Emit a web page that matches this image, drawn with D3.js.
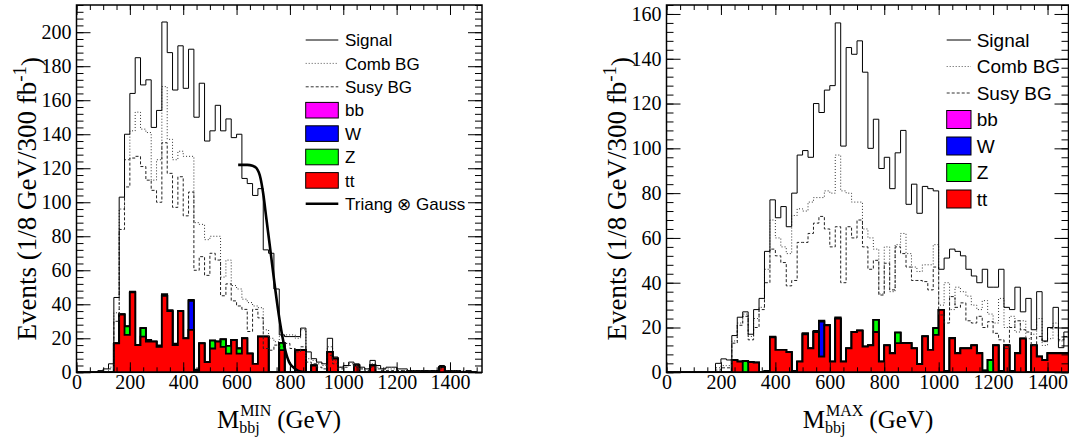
<!DOCTYPE html>
<html><head><meta charset="utf-8">
<script src="https://cdnjs.cloudflare.com/ajax/libs/d3/7.8.5/d3.min.js"></script>
<style>html,body{margin:0;padding:0;background:#fff;} svg{display:block;}</style>
</head><body>
<svg id="chart" width="1069" height="437"></svg>
<script>
const BIN = 20; // GeV per bin

// ---------- Left panel: M_bbj^MIN ----------
const minSignal = [0,0,0,0,1,2,5,44,103,140, 164,185,169,172,144,154,206,188,166,192,
  167,190,150,170,136,142,157,142,149,138, 140,114,111,104,108,72,70,49,22,21,
  21,21,26,12,8,6,5,20,9,3, 4,6,5,3,2,7,4,2,3,3, 2,2,1,1,1,1,1,1,4,1, 1,1,0,1,0];
const minComb = [0,0,0,0,0,0,3,35,96,125, 142,153,143,141,113,125,168,137,125,130,
  127,127,88,87,78,80,80,56,66,51, 49,43,41,39,38,25,20,18,21,22,
  22,20,25,8,7,5,4,15,7,3, 4,5,4,2,2,5,3,2,2,2, 1,1,1,1,1,1,1,1,3,1, 1,0,1,0,0];
const minSusy = [0,0,0,0,0,0,2,30,84,109, 126,127,121,113,107,100,135,117,97,115,
  92,106,60,68,57,70,66,45,52,42, 39,37,24,37,32,14,13,16,15,17,
  14,12,15,6,5,3,2,10,5,2, 3,4,3,2,1,3,2,1,1,1, 1,1,1,1,1,1,1,1,2,0, 0,1,0,0,0];
const minTT = [0,0,0,0,0,0,0,17,34,22, 47,16,21,18,18,15,45,36,16,36,
  20,25,0.5,17,6,14,18,15,11,19, 11,20,11,5,21,21,0,0,13,0,
  0,13,13,0,4,0,0,12,8,0, 0,0,4,0,0,4,0,0,0,0, 0,0,0,0,0,0,0,0,3,0, 0,0,0,0,0];
const minZ = [0,0,0,0,0,0,0,0,0,5, 0,0,5,0,0,0,0,0,0,0,
  0,0,0,0,0,4.6,0,4.4,4.5,0, 3,0,0,0,0,0,0,0,4.3,0,
  0,0,0,0,0,0,0,0,0,0, 0,0,0,0,0,0,0,0,0,0, 0,0,0,0,0,0,0,0,0,0, 0,0,0,0,0];
const minW = [0,0,0,0,0,0,0,0,0,0, 0,0,0,0,0,0,0,0,0,0,
  0,17,0,0,0,0,0,0,0,0, 0,0,0,0,0,0,0,0,0,0,
  0,0,0,0,0,0,0,0,0,0, 0,0,0,0,0,0,0,0,0,0, 0,0,0,0,0,0,0,0,0,0, 0,0,0,0,0];
const minBB = [0,0,0,0,0,0,0,0,0,0, 0.5,0,0,1,0,0.8,1,0.5,0.8,0,
  0,0.6,1,0,0,0,0,0,0,0, 0,0,0,0,0,0,0,0,0,0,
  0,0,0,0,0,0,0,0,0,0, 0,0,0,0,0,0,0,0,0,0, 0,0,0,0,0,0,0,0,0,0, 0,0,0,0,0];
// Triang (x) Gauss fit curve
const fitX = [606,640,660,675,690,700,712,725,744,762,781,797,812,830,850,870,1000];
const fitY = [122,122,121.5,120,114,105,90,74,50,30,14,6,3,1,0.2,0,0];

// ---------- Right panel: M_bbj^MAX ----------
const maxSignal = [0,0,0,0,0,0,0,0,0,4, 6,5.5,16.4,24.6,27,17,28,33,54,77,
  69,74,65,80,97,99,96,120,116,126, 128,156,101,145,142,148,134,100,113,91,
  96,82,98,108,75,84,71,83,82,81, 46,51,55,54,52,46,43,40,46,38,
  38,46,29,28,38,27,33,19,36,14, 20,29,11,18];
const maxComb = [0,0,0,0,0,0,0,0,0,2, 3,3,14,22,26,16,24,29,46,68,
  60,56,53,70,73,72,76,78,78,81, 80,97,81,80,76,76,64,60,55,35,
  56,36,57,62,53,47,45,48,48,57, 30,40,28,38,36,34,30,28,32,26,
  22,33,20,25,18,23,15,17,24,12, 15,22,14,16];
const maxSusy = [0,0,0,0,0,0,0,0,0,1, 2,2,13,21,25,14.5,20,28,40,55,
  52,49,38.6,41,58,58,62,66.6,69.6,64, 56,65,40,65,60,68,56,46,50,34.5,
  48.7,36.8,56,53,47,41,41,40.5,36.8,47, 25.6,22,33.8,29,31,23,22,25,20,22.6,
  17.4,14.5,10.7,20,23,19,18,12,16,13.7, 19.7,20,14.5,16];
const maxTT = [0,0,0,0,0,0,0,0,0,0, 0,0,5.5,4.8,0,4.5,4.3,0,0.5,15.6,
  10,10,9,0.5,4.8,17,10.7,18,7,21, 4.8,24,4.8,10.7,18,18.6,11.5,12,18,4.8,
  12,8.5,13,13,13,10.7,3.7,16,10,16.7, 27.9,0.5,15.2,8.5,10.7,10.7,12,8.5,0.7,0,
  12,0.5,12,0.5,8.5,15,0,12,7,5.5, 8.5,8.5,8.5,8.5];
const maxZ = [0,0,0,0,0,0,0,0,0,0, 0,0,0,0,5,0,0,0,0,0,
  0,0,0,0,0,0,0,0,0,0, 0,0,0,0,0,0,0,0,5.4,0,
  0,0,4.7,0,0,0,0,0,0,3, 0,0,0,0,0,0,0,0,0,5.5,
  0,0,0,0,0,0,0,0,0,0, 0,0,0,0];
const maxW = [0,0,0,0,0,0,0,0,0,0, 0,0,0,0,0,0,0,0,0,0,
  0,0,0,0,0,0,0,0,15.6,0, 0,0,0,0,0,0,0,0,0,0,
  0,0,0,0,0,0,0,0,0,0, 0,0,0,0,0,0,0,0,0,0,
  0,0,0,0,0,0,0,0,0,0, 0,0,0,0];
const maxBB = [0,0,0,0,0,0,0,0,0,0, 0,0,0,0,0,0,0,0,0,0.3,
  0,0,0,0,0,0.5,0,0.5,0.5,0, 0,0.5,0,0,0,0,0,0,0,0,
  0,0,0,0,0,0,0,0,0,0, 0,0,0,0,0,0,0,0,0,0,
  0,0,0,0,0,0,0,0,0,0, 0,0,0,0];

const xTickValues = [0,200,400,600,800,1000,1200,1400];
const leftYTickValues = [0,20,40,60,80,100,120,140,160,180,200];
const rightYTickValues = [0,20,40,60,80,100,120,140,160];
const legendNames = ["Signal","Comb BG","Susy BG","bb","W","Z","tt"];
const fitName = "Triang \u2297 Gauss";
const yTitle = ["Events (1/8 GeV/300 fb", "-1", ")"];

const svg = d3.select('#chart');
const serif = "'Liberation Serif','Times New Roman',serif";
const sans = "'Liberation Sans',Arial,Helvetica,sans-serif";

function drawPanel(p) {
  const g = svg.append('g');
  const x = d3.scaleLinear().domain([0, p.xmax]).range([p.x0, p.x1]);
  const y = d3.scaleLinear().domain([0, p.ymax]).range([p.y1, p.y0]);
  const clipId = 'clip' + p.id;
  svg.append('clipPath').attr('id', clipId).append('rect')
    .attr('x', p.x0).attr('y', p.y0 - 1).attr('width', p.x1 - p.x0).attr('height', p.y1 - p.y0 + 1);
  const plot = g.append('g').attr('clip-path', `url(#${clipId})`);

  const stepPath = vals => {
    let d = `M${x(0)},${y(0)}`;
    vals.forEach((v, i) => { d += `L${x(i*BIN)},${y(v)}L${x((i+1)*BIN)},${y(v)}`; });
    d += `L${x(vals.length*BIN)},${y(0)}`;
    return d;
  };

  // stacked backgrounds: tt, Z, W, bb
  const c1 = p.tt;
  const c2 = c1.map((v, i) => v + p.z[i]);
  const c3 = c2.map((v, i) => v + p.w[i]);
  const c4 = c3.map((v, i) => v + p.bb[i]);
  [[c4, '#ff00ff'], [c3, '#0000ff'], [c2, '#00ff00'], [c1, '#ff0000']].forEach(([vals, col]) => {
    plot.append('path').attr('d', stepPath(vals) + 'Z')
      .attr('fill', col).attr('stroke', '#000').attr('stroke-width', 1.8).attr('stroke-linejoin', 'miter');
  });

  plot.append('path').attr('d', stepPath(p.comb)).attr('fill', 'none')
    .attr('stroke', '#333').attr('stroke-width', 1).attr('stroke-dasharray', '1,2');
  plot.append('path').attr('d', stepPath(p.susy)).attr('fill', 'none')
    .attr('stroke', '#222').attr('stroke-width', 1).attr('stroke-dasharray', '3,2');
  plot.append('path').attr('d', stepPath(p.signal)).attr('fill', 'none')
    .attr('stroke', '#000').attr('stroke-width', 1);

  if (p.fit) {
    const line = d3.line().x(d => x(d[0])).y(d => y(d[1])).curve(d3.curveMonotoneX);
    plot.append('path').attr('d', line(p.fit[0].map((v, i) => [v, p.fit[1][i]])))
      .attr('fill', 'none').attr('stroke', '#000').attr('stroke-width', 2.6);
  }

  // axes (ROOT style, ticks inward)
  const styleAxis = sel => { sel.select('.domain').remove(); sel.selectAll('line').attr('stroke', '#000'); };
  const minorX = d3.range(0, p.xmax + 1, 50);
  const minorY = d3.range(0, p.ymax + 0.001, 4);
  g.append('g').attr('transform', `translate(0,${p.y1})`)
    .call(d3.axisBottom(x).tickValues(minorX).tickSize(-5).tickFormat('')).call(styleAxis);
  g.append('g').attr('transform', `translate(0,${p.y1})`)
    .call(d3.axisBottom(x).tickValues(xTickValues).tickSize(-10).tickPadding(2).tickFormat(d3.format('d')))
    .call(styleAxis)
    .selectAll('text').attr('font-family', serif).attr('font-size', 20).attr('fill', '#000');
  g.append('g').attr('transform', `translate(0,${p.y0})`)
    .call(d3.axisTop(x).tickValues(minorX).tickSize(-5).tickFormat('')).call(styleAxis);
  g.append('g').attr('transform', `translate(0,${p.y0})`)
    .call(d3.axisTop(x).tickValues(xTickValues).tickSize(-10).tickFormat('')).call(styleAxis);
  g.append('g').attr('transform', `translate(${p.x0},0)`)
    .call(d3.axisLeft(y).tickValues(minorY).tickSize(-7).tickFormat('')).call(styleAxis);
  g.append('g').attr('transform', `translate(${p.x0},0)`)
    .call(d3.axisLeft(y).tickValues(p.yTicks).tickSize(-14).tickPadding(5).tickFormat(d3.format('d')))
    .call(styleAxis)
    .selectAll('text').attr('font-family', serif).attr('font-size', 20).attr('fill', '#000');
  g.append('g').attr('transform', `translate(${p.x1},0)`)
    .call(d3.axisRight(y).tickValues(minorY).tickSize(-7).tickFormat('')).call(styleAxis);
  g.append('g').attr('transform', `translate(${p.x1},0)`)
    .call(d3.axisRight(y).tickValues(p.yTicks).tickSize(-14).tickFormat('')).call(styleAxis);

  g.append('rect').attr('x', p.x0).attr('y', p.y0).attr('width', p.x1 - p.x0).attr('height', p.y1 - p.y0)
    .attr('fill', 'none').attr('stroke', '#000').attr('stroke-width', 1.5);

  // y title
  const yt = g.append('text').attr('transform', `translate(${p.ytX},${p.ytTop}) rotate(-90)`)
    .attr('text-anchor', 'end').attr('font-family', serif).attr('font-size', p.ytSize).attr('fill', '#000');
  yt.append('tspan').text(yTitle[0]);
  yt.append('tspan').attr('dy', '-0.55em').attr('font-size', p.ytSize * 0.7).text(yTitle[1]);
  yt.append('tspan').attr('dy', '0.55em').text(yTitle[2]);

  // x title: M_bbj^{sup} (GeV)
  const xt = g.append('g').attr('font-family', serif).attr('fill', '#000');
  const base = p.xtBase;
  const m = xt.append('text').attr('y', base).attr('font-size', 25).text('M');
  const wm = m.node().getComputedTextLength();
  const sub = xt.append('text').attr('x', wm).attr('y', base + 4.5).attr('font-size', 16).text('bbj');
  const sup = xt.append('text').attr('x', wm + 1).attr('y', base - 12).attr('font-size', 16).text(p.sup);
  const ws = Math.max(sub.node().getComputedTextLength(), sup.node().getComputedTextLength() + 1);
  const rest = xt.append('text').attr('x', wm + ws + 6).attr('y', base).attr('font-size', 25).text('(GeV)');
  const total = wm + ws + 6 + rest.node().getComputedTextLength();
  xt.attr('transform', `translate(${p.xtCenter - total / 2},0)`);

  // legend
  const L = p.leg;
  const lg = g.append('g').attr('font-family', sans).attr('font-size', L.font).attr('fill', '#000');
  const styles = [
    {type: 'line', dash: null, color: '#000', w: 1},
    {type: 'line', dash: '1,2', color: '#555', w: 1},
    {type: 'line', dash: '3,2', color: '#333', w: 1},
    {type: 'box', color: '#ff00ff'}, {type: 'box', color: '#0000ff'},
    {type: 'box', color: '#00ff00'}, {type: 'box', color: '#ff0000'}
  ];
  const names = legendNames.slice();
  if (p.fit) { names.push(fitName); styles.push({type: 'line', dash: null, color: '#000', w: 2.6}); }
  names.forEach((nm, i) => {
    const cy = L.y + i * L.dy;
    const s = styles[i];
    if (s.type === 'line') {
      lg.append('line').attr('x1', L.x).attr('x2', L.x + L.w).attr('y1', cy).attr('y2', cy)
        .attr('stroke', s.color).attr('stroke-width', s.w).attr('stroke-dasharray', s.dash);
    } else {
      lg.append('rect').attr('x', L.x).attr('y', cy - L.h / 2).attr('width', L.w).attr('height', L.h)
        .attr('fill', s.color).attr('stroke', '#000').attr('stroke-width', 1);
    }
    lg.append('text').attr('x', L.tx).attr('y', cy + L.font * 0.36).text(nm);
  });
}

drawPanel({
  id: 'L', x0: 76.5, x1: 482, y0: 5, y1: 372.3, xmax: 1520, ymax: 216,
  yTicks: leftYTickValues,
  signal: minSignal, comb: minComb, susy: minSusy, tt: minTT, z: minZ, w: minW, bb: minBB,
  fit: [fitX, fitY], sup: 'MIN', xtCenter: 279, xtBase: 428,
  ytX: 36, ytTop: 57, ytSize: 27,
  leg: {x: 305.7, w: 32.6, h: 15.6, tx: 345, y: 40, dy: 23.4, font: 17}
});
drawPanel({
  id: 'R', x0: 666.5, x1: 1068.5, y0: 5, y1: 372.3, xmax: 1477, ymax: 164,
  yTicks: rightYTickValues,
  signal: maxSignal, comb: maxComb, susy: maxSusy, tt: maxTT, z: maxZ, w: maxW, bb: maxBB,
  fit: null, sup: 'MAX', xtCenter: 868, xtBase: 428,
  ytX: 626, ytTop: 57, ytSize: 27,
  leg: {x: 946.7, w: 24.3, h: 18, tx: 976.7, y: 40, dy: 26.5, font: 19}
});
</script>
</body></html>
